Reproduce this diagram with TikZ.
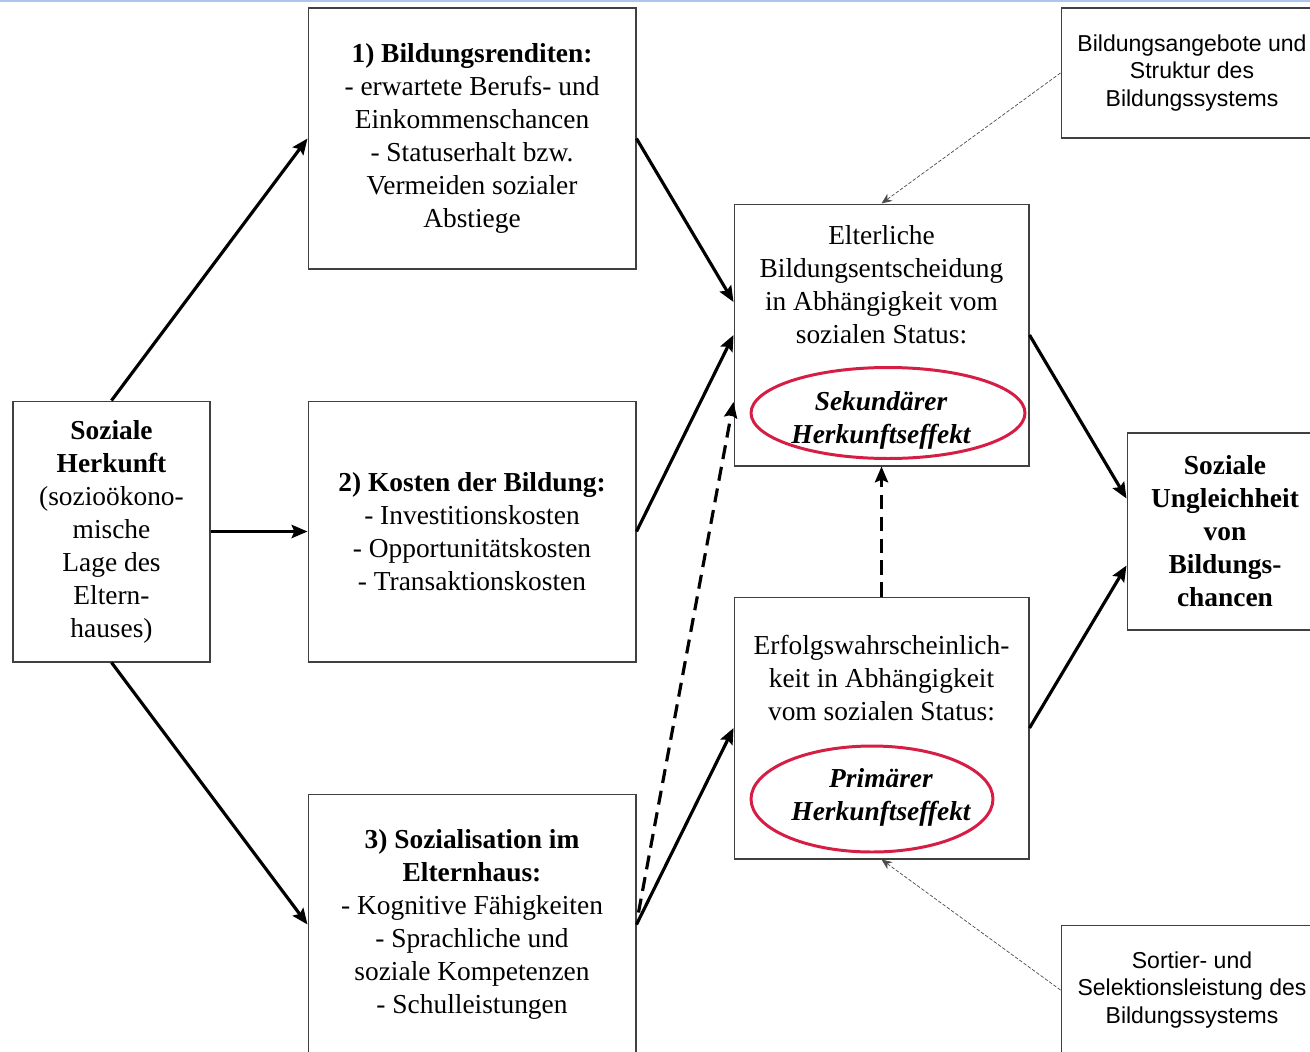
\documentclass[tikz,border=0pt]{standalone}
\usepackage{fontspec}
\setmainfont{Liberation Serif}
\setsansfont{Liberation Sans}
\usepackage{xcolor}
\usetikzlibrary{arrows.meta, calc}
\usetikzlibrary{positioning, shapes.geometric}
\definecolor{effektrot}{RGB}{214,30,68}
\definecolor{randblau}{RGB}{170,198,234}
\newcommand{\serifgr}{\fontsize{15.6pt}{18.8pt}\selectfont}
\newcommand{\sansgr}{\sffamily\fontsize{13.1pt}{15.9pt}\selectfont}

\begin{document}
\begin{tikzpicture}[
    x=0.02cm, y=-0.02cm,
    >={Stealth[length=9pt, width=7.5pt, inset=1.5pt]},
    every node/.style={font=\serifgr},
    box/.style={draw=black!75, line width=0.6pt, align=center, inner sep=2pt},
    effekt/.style={ellipse, draw=effektrot, line width=1.7pt, inner sep=0pt},
    effekttext/.style={align=center, inner sep=0pt, font=\serifgr\bfseries\itshape},
    pfeil/.style={->, line width=1.8pt},
    strichpfeil/.style={pfeil, dash pattern=on 8pt off 4.5pt},
    einfluss/.style={-{Stealth[length=6pt, width=5pt]}, line width=0.4pt, black!70,
        dash pattern=on 2pt off 1pt},
]
\clip (0,0) rectangle (1310,1051);
% thin blue edge along the top
\fill[randblau] (0,0) rectangle (1310,2.5);
% origin
\node[box, minimum width=3.94cm, minimum height=5.22cm] (herkunft) at (111.5,531.5)
    {\textbf{Soziale}\\\textbf{Herkunft}\\(sozioökono-\\mische\\Lage des\\Eltern-\\hauses)};
% the three middle boxes
\node[box, minimum width=6.56cm, minimum height=5.22cm] (rendite) at (472,138.5)
    {\textbf{1) Bildungsrenditen:}\\- erwartete Berufs- und\\Einkommenschancen\\- Statuserhalt bzw.\\Vermeiden sozialer\\Abstiege};
\node[box, minimum width=6.56cm, minimum height=5.22cm] (kosten) at (472,531.5)
    {\textbf{2) Kosten der Bildung:}\\- Investitionskosten\\- Opportunitätskosten\\- Transaktionskosten};
\node[box, minimum width=6.56cm, minimum height=5.22cm] (sozial) at (472,924.5)
    {\textbf{3) Sozialisation im}\\\textbf{Elternhaus:}\\- Kognitive Fähigkeiten\\- Sprachliche und\\soziale Kompetenzen\\- Schulleistungen};
% decision (secondary effect)
\node[box, minimum width=5.9cm, minimum height=5.24cm] (ent) at (881.5,335) {};
\node[align=center, inner sep=0pt] (enttext) at (881.5,285)
    {Elterliche\\Bildungsentscheidung\\in Abhängigkeit vom\\sozialen Status:};
\node[effekt, minimum width=5.48cm, minimum height=1.82cm] (sek) at (888,413) {};
\node[effekttext] (sektext) at (881,420) {Sekundärer\\Herkunftseffekt};
% success probability (primary effect)
\node[box, minimum width=5.9cm, minimum height=5.24cm] (erfolg) at (881.5,728) {};
\node[align=center, inner sep=0pt] (erfolgtext) at (881.5,678)
    {Erfolgswahrscheinlich-\\keit in Abhängigkeit\\vom sozialen Status:};
\node[effekt, minimum width=4.84cm, minimum height=2.12cm] (prim) at (872,799) {};
\node[effekttext] (primtext) at (881,797) {Primärer\\Herkunftseffekt};
% outcome
\node[box, minimum width=3.92cm, minimum height=3.94cm, font=\serifgr\bfseries] (ungl) at (1225,531.5)
    {Soziale\\Ungleichheit\\von\\Bildungs-\\chancen};
% system side
\node[box, minimum width=5.24cm, minimum height=2.6cm, font=\sansgr] (angebot) at (1192,73)
    {Bildungsangebote und\\Struktur des\\Bildungssystems};
\node[box, minimum width=5.24cm, minimum height=2.6cm, font=\sansgr] (sortier) at (1192,990)
    {Sortier- und\\Selektionsleistung des\\Bildungssystems};
% arrows
\draw[pfeil] (herkunft.north) -- (rendite.west);
\draw[pfeil] (herkunft.east) -- (kosten.west);
\draw[pfeil] (herkunft.south) -- (sozial.west);
\draw[pfeil] (rendite.east) -- ($(ent.west)+(0,-33)$);
\draw[pfeil] (kosten.east) -- (ent.west);
\draw[pfeil] (sozial.east) -- (erfolg.west);
\draw[strichpfeil] ($(sozial.east)+(2,-12)$) -- ($(ent.west)+(0,67)$);
\draw[strichpfeil] (erfolg.north) -- (ent.south);
\draw[pfeil] (ent.east) -- ($(ungl.west)+(0,-33)$);
\draw[pfeil] (erfolg.east) -- ($(ungl.west)+(0,34)$);
% outside influences
\draw[einfluss] (angebot.west) -- (ent.north);
\draw[einfluss] (sortier.west) -- (erfolg.south);
\end{tikzpicture}
\end{document}
